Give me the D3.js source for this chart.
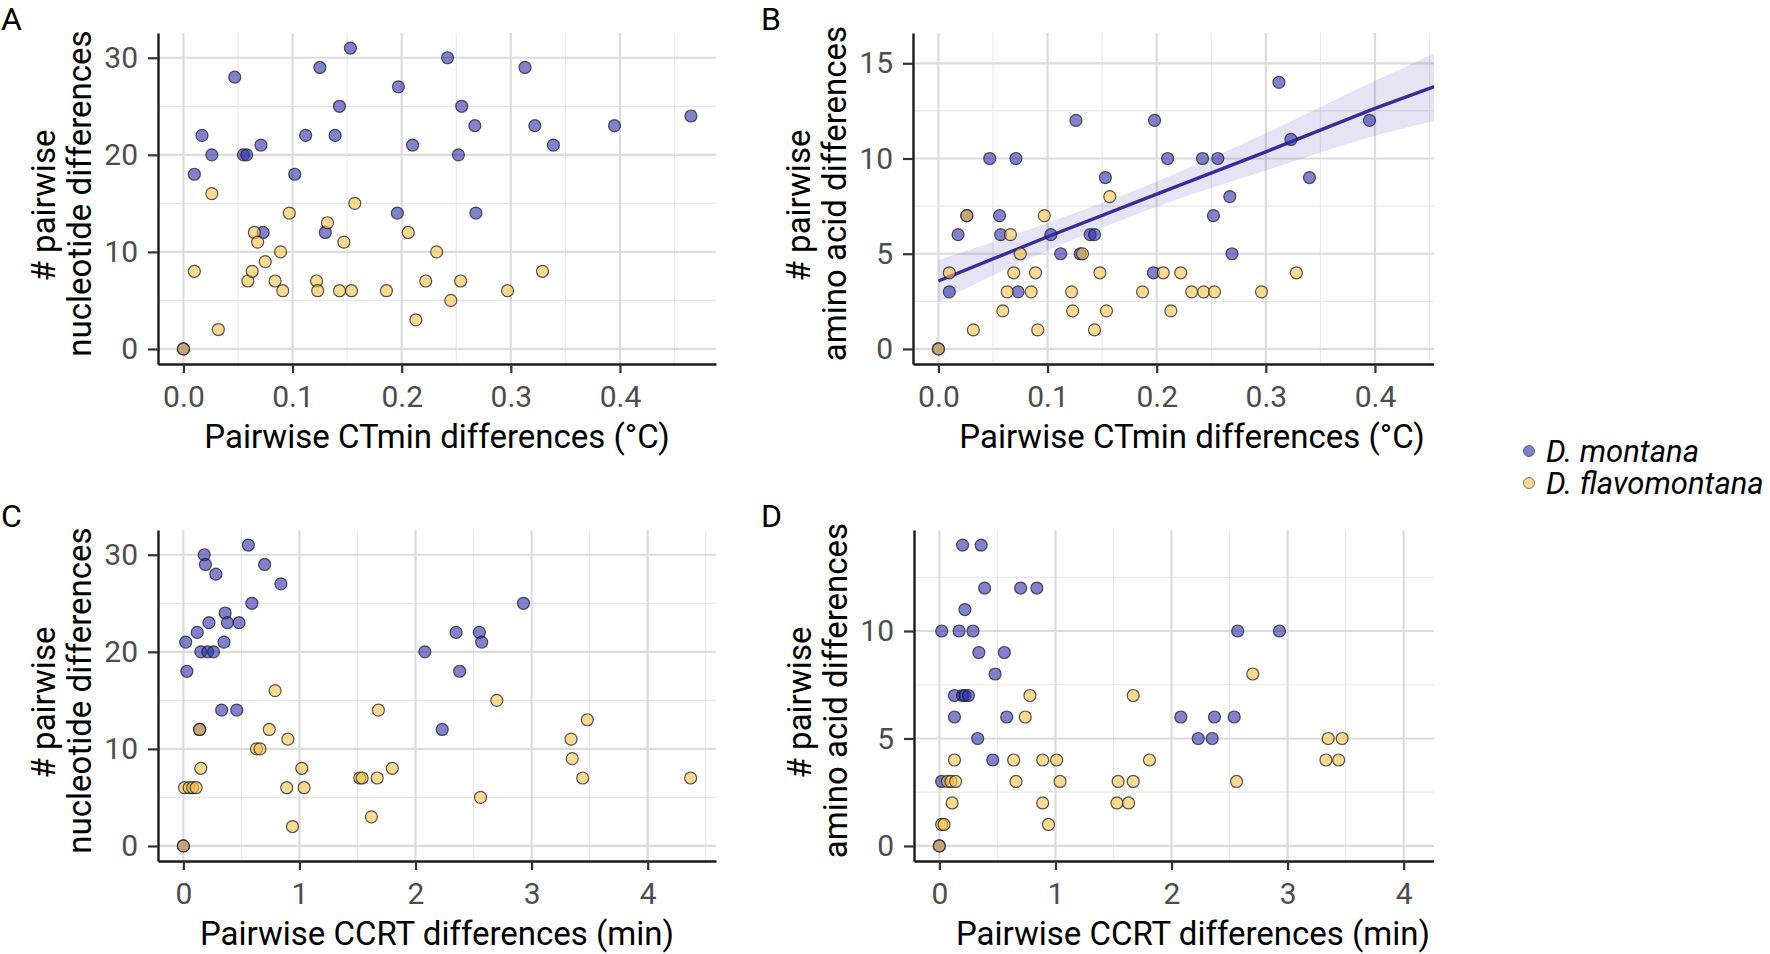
<!DOCTYPE html>
<html>
<head>
<meta charset="utf-8">
<script src="https://cdn.jsdelivr.net/npm/d3@7"></script>
<style>
body { margin: 0; background: #fff; }
text { font-family: Roboto, "Liberation Sans", sans-serif; }
</style>
</head>
<body>
<div id="chart"></div>
<script>
// values, [x, y] per pair
const aMontana = [[0,0],[0.010,18],[0.017,22],[0.026,20],[0.047,28],[0.055,20],[0.058,20],[0.071,21],[0.073,12],
  [0.102,18],[0.112,22],[0.125,29],[0.130,12],[0.139,22],[0.143,25],[0.153,31],[0.196,14],[0.197,27],[0.210,21],
  [0.242,30],[0.252,20],[0.255,25],[0.267,23],[0.268,14],[0.313,29],[0.322,23],[0.339,21],[0.395,23],[0.465,24]];
const aFlavo = [[0,0],[0.010,8],[0.026,16],[0.032,2],[0.059,7],[0.063,8],[0.065,12],[0.068,11],[0.075,9],[0.084,7],
  [0.089,10],[0.091,6],[0.097,14],[0.122,7],[0.123,6],[0.132,13],[0.143,6],[0.147,11],[0.154,6],[0.157,15],
  [0.186,6],[0.206,12],[0.213,3],[0.222,7],[0.232,10],[0.245,5],[0.254,7],[0.297,6],[0.329,8]];

const bMontana = [[0,0],[0.010,3],[0.018,6],[0.026,7],[0.047,10],[0.056,7],[0.057,6],[0.071,10],[0.073,3],
  [0.103,6],[0.112,5],[0.126,12],[0.130,5],[0.139,6],[0.143,6],[0.153,9],[0.197,4],[0.198,12],[0.210,10],
  [0.242,10],[0.252,7],[0.256,10],[0.267,8],[0.269,5],[0.312,14],[0.323,11],[0.340,9],[0.395,12]];
const bFlavo = [[0,0],[0.010,4],[0.026,7],[0.032,1],[0.059,2],[0.063,3],[0.066,6],[0.069,4],[0.075,5],[0.085,3],
  [0.089,4],[0.091,1],[0.097,7],[0.122,3],[0.123,2],[0.132,5],[0.143,1],[0.148,4],[0.154,2],[0.157,8],
  [0.187,3],[0.206,4],[0.213,2],[0.222,4],[0.232,3],[0.243,3],[0.253,3],[0.296,3],[0.328,4]];

// linear fit for D. montana in B, with its confidence band
const fitX = [0, 0.1, 0.2, 0.3, 0.4, 0.465];
const fitY = [3.57, 5.89, 8.13, 10.35, 12.63, 14.0];
const fitLow = [2.47, 5.17, 7.47, 9.37, 11.2, 12.1];
const fitHigh = [4.67, 6.61, 8.79, 11.33, 14.08, 15.8];

const cMontana = [[0,0],[0.02,21],[0.03,18],[0.12,22],[0.14,12],[0.15,20],[0.18,30],[0.19,29],[0.21,20],[0.22,23],
  [0.26,20],[0.28,28],[0.33,14],[0.35,21],[0.36,24],[0.38,23],[0.46,14],[0.48,23],[0.56,31],[0.59,25],
  [0.70,29],[0.84,27],[2.08,20],[2.23,12],[2.35,22],[2.38,18],[2.55,22],[2.57,21],[2.93,25]];
const cFlavo = [[0,0],[0.01,6],[0.05,6],[0.08,6],[0.11,6],[0.14,12],[0.15,8],[0.63,10],[0.66,10],[0.74,12],
  [0.79,16],[0.89,6],[0.90,11],[0.94,2],[1.02,8],[1.04,6],[1.52,7],[1.54,7],[1.62,3],[1.67,7],
  [1.68,14],[1.80,8],[2.56,5],[2.70,15],[3.34,11],[3.35,9],[3.44,7],[3.48,13],[4.37,7]];

const dMontana = [[0,0],[0.02,10],[0.02,3],[0.13,7],[0.13,6],[0.17,10],[0.20,14],[0.20,7],[0.22,11],[0.22,7],
  [0.25,7],[0.29,10],[0.33,5],[0.34,9],[0.36,14],[0.39,12],[0.46,4],[0.48,8],[0.56,9],[0.58,6],
  [0.70,12],[0.84,12],[2.08,6],[2.23,5],[2.35,5],[2.37,6],[2.54,6],[2.57,10],[2.93,10]];
const dFlavo = [[0,0],[0.02,1],[0.04,1],[0.07,3],[0.10,3],[0.11,2],[0.13,4],[0.14,3],[0.64,4],[0.66,3],
  [0.74,6],[0.78,7],[0.89,4],[0.89,2],[0.94,1],[1.01,4],[1.04,3],[1.53,2],[1.54,3],[1.63,2],
  [1.67,3],[1.67,7],[1.81,4],[2.56,3],[2.70,8],[3.33,4],[3.35,5],[3.44,4],[3.47,5]];

const ctminTicks = [0, 0.1, 0.2, 0.3, 0.4];
const ccrtTicks = [0, 1, 2, 3, 4];
const nucTicks = [0, 10, 20, 30];
const aaTicksB = [0, 5, 10, 15];
const aaTicksD = [0, 5, 10];
const species = ['D. montana', 'D. flavomontana'];

const width = 1770;
const height = 954;
const colMontana = '#2d2daa';
const colFlavo = '#f5c242';

let svg = d3.select('#chart')
    .append('svg')
    .attr('width', width)
    .attr('height', height);

svg.append('rect').attr('width', width).attr('height', height).attr('fill', '#fff');

const panels = [
  {label: 'A', left: 158, top: 33, xDomain: [-0.0233, 0.488], yDomain: [-1.55, 32.55],
   xTicks: ctminTicks, yTicks: nucTicks, xFmt: d3.format('.1f'),
   ylab: ['# pairwise', 'nucleotide differences'], xlab: 'Pairwise CTmin differences (°C)',
   montana: aMontana, flavo: aFlavo},
  {label: 'B', left: 913, top: 33, xDomain: [-0.0233, 0.488], yDomain: [-0.79, 16.59],
   xTicks: ctminTicks, yTicks: aaTicksB, xFmt: d3.format('.1f'),
   ylab: ['# pairwise', 'amino acid differences'], xlab: 'Pairwise CTmin differences (°C)',
   montana: bMontana, flavo: bFlavo, fit: true},
  {label: 'C', left: 158, top: 530, xDomain: [-0.2185, 4.5885], yDomain: [-1.55, 32.55],
   xTicks: ccrtTicks, yTicks: nucTicks, xFmt: d3.format('d'),
   ylab: ['# pairwise', 'nucleotide differences'], xlab: 'Pairwise CCRT differences (min)',
   montana: cMontana, flavo: cFlavo},
  {label: 'D', left: 914, top: 530, xDomain: [-0.2185, 4.5885], yDomain: [-0.7, 14.7],
   xTicks: ccrtTicks, yTicks: aaTicksD, xFmt: d3.format('d'),
   ylab: ['# pairwise', 'amino acid differences'], xlab: 'Pairwise CCRT differences (min)',
   montana: dMontana, flavo: dFlavo}
];

const pw = 558, ph = 331;

function midpoints(ticks, domain) {
    const step = ticks[1] - ticks[0];
    const out = [];
    for (let v = ticks[0] - step / 2; v <= domain[1]; v += step) {
        if (v >= domain[0]) out.push(v);
    }
    return out;
}

panels.forEach(function(p) {
    let g = svg.append('g').attr('transform', `translate(${p.left}, ${p.top})`);

    let x = d3.scaleLinear().domain(p.xDomain).range([0, pw]);
    let y = d3.scaleLinear().domain(p.yDomain).range([ph, 0]);

    // grid
    g.selectAll('.vminor').data(midpoints(p.xTicks, p.xDomain)).enter().append('line')
        .attr('x1', d => x(d)).attr('x2', d => x(d)).attr('y1', 0).attr('y2', ph)
        .attr('stroke', '#e9e9e9').attr('stroke-width', 1.2);
    g.selectAll('.hminor').data(midpoints(p.yTicks, p.yDomain)).enter().append('line')
        .attr('y1', d => y(d)).attr('y2', d => y(d)).attr('x1', 0).attr('x2', pw)
        .attr('stroke', '#e9e9e9').attr('stroke-width', 1.2);
    g.selectAll('.vmajor').data(p.xTicks).enter().append('line')
        .attr('x1', d => x(d)).attr('x2', d => x(d)).attr('y1', 0).attr('y2', ph)
        .attr('stroke', '#dcdcdc').attr('stroke-width', 2.2);
    g.selectAll('.hmajor').data(p.yTicks).enter().append('line')
        .attr('y1', d => y(d)).attr('y2', d => y(d)).attr('x1', 0).attr('x2', pw)
        .attr('stroke', '#dcdcdc').attr('stroke-width', 2.2);

    if (p.fit) {
        const band = fitX.map((v, i) => ({x: v, lo: fitLow[i], hi: fitHigh[i], y: fitY[i]}));
        g.append('path').datum(band)
            .attr('d', d3.area().curve(d3.curveMonotoneX).x(d => x(d.x)).y0(d => y(d.lo)).y1(d => y(d.hi)))
            .attr('fill', '#3f3faf').attr('fill-opacity', 0.14);
        g.append('path').datum(band)
            .attr('d', d3.line().x(d => x(d.x)).y(d => y(d.y)))
            .attr('fill', 'none').attr('stroke', '#3a2c9c').attr('stroke-width', 3.4);
    }

    // points
    [[p.montana, colMontana], [p.flavo, colFlavo]].forEach(function([pts, col]) {
        g.selectAll(null).data(pts).enter().append('circle')
            .attr('cx', d => x(d[0]))
            .attr('cy', d => y(d[1]))
            .attr('r', 6)
            .attr('fill', col).attr('fill-opacity', 0.6)
            .attr('stroke', '#1e1e2e').attr('stroke-opacity', 0.75).attr('stroke-width', 1.2);
    });

    // axes
    let yAxis = g.append('g')
        .call(d3.axisLeft(y).tickValues(p.yTicks).tickSize(10).tickSizeOuter(0).tickPadding(10));
    let xAxis = g.append('g')
        .attr('transform', `translate(0, ${ph})`)
        .call(d3.axisBottom(x).tickValues(p.xTicks).tickFormat(p.xFmt).tickSize(9).tickSizeOuter(0).tickPadding(13));
    [yAxis, xAxis].forEach(function(a) {
        a.select('.domain').attr('stroke', '#1a1a1a').attr('stroke-width', 2.4);
        a.selectAll('.tick line').attr('stroke', '#333').attr('stroke-width', 2.2);
        a.selectAll('.tick text').attr('fill', '#4d4d4d').style('font-size', '30px')
            .style('font-family', 'Roboto, sans-serif');
    });

    // titles
    g.append('text')
        .attr('x', pw / 2)
        .attr('y', ph + 84)
        .attr('text-anchor', 'middle')
        .style('font-size', '33px')
        .text(p.xlab);

    g.append('text')
        .attr('transform', `translate(-103, ${ph / 2 + 7}) rotate(-90)`)
        .attr('text-anchor', 'middle')
        .style('font-size', '33px')
        .text(p.ylab[0]);
    g.append('text')
        .attr('transform', `translate(-67, ${ph / 2 - 5}) rotate(-90)`)
        .attr('text-anchor', 'middle')
        .style('font-size', '33px')
        .text(p.ylab[1]);

    svg.append('text')
        .attr('x', p.left < 500 ? 1 : 761)
        .attr('y', p.top - 3)
        .style('font-size', '32px')
        .text(p.label);
});

// legend box sits over the right edge of panels B and D
let legend = svg.append('g');
legend.append('rect')
    .attr('x', 1434).attr('y', 0).attr('width', width - 1434).attr('height', height)
    .attr('fill', '#fff');

let legendScale = d3.scalePoint().domain(species).range([451, 483]);
legend.selectAll('circle').data(species).enter().append('circle')
    .attr('cx', 1529)
    .attr('cy', d => legendScale(d))
    .attr('r', 5.5)
    .attr('fill', (d, i) => i === 0 ? colMontana : colFlavo)
    .attr('fill-opacity', 0.6)
    .attr('stroke', '#1e1e2e').attr('stroke-opacity', 0.6).attr('stroke-width', 1);
legend.selectAll('text').data(species).enter().append('text')
    .attr('x', 1546)
    .attr('y', d => legendScale(d) + 11)
    .style('font-size', '31px')
    .style('font-style', 'italic')
    .text(d => d);
</script>
</body>
</html>
